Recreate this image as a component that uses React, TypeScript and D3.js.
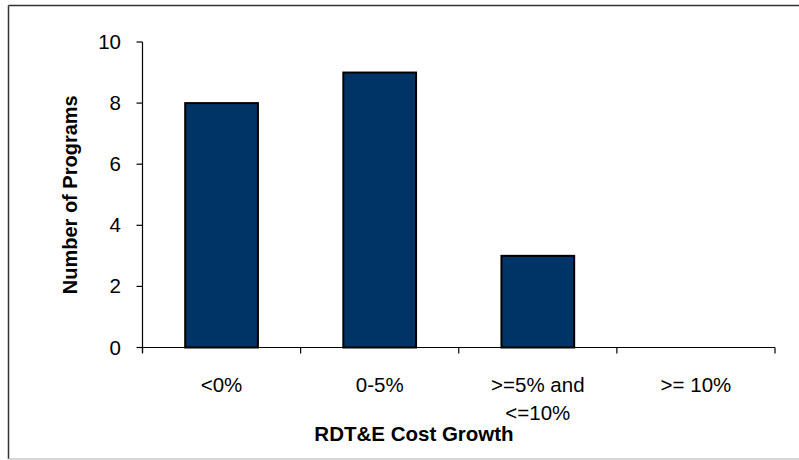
import React from "react";
import * as d3 from "d3";

const categories: string[] = ["<0%", "0-5%", ">=5% and\n<=10%", ">= 10%"];
const programCounts: number[] = [8, 9, 3, 0];
const yTicks: number[] = [0, 2, 4, 6, 8, 10];
const yAxisTitle = "Number of Programs";
const xAxisTitle = "RDT&E Cost Growth";

const W = 799;
const H = 460;
const plotLeft = 142.5;
const plotRight = 775;
const plotTop = 42;
const plotBottom = 347.5;
const FONT = "'Liberation Sans', Arial, sans-serif";

export default function App() {
  const x = d3
    .scaleBand<string>()
    .domain(categories)
    .range([plotLeft, plotRight])
    .paddingInner(0.54)
    .paddingOuter(0.27);
  const y = d3.scaleLinear().domain([0, 10]).range([plotBottom, plotTop]);
  const step = x.step();
  const boundaries = d3.range(categories.length + 1).map((i) => plotLeft + i * step);

  return (
    <svg
      width={W}
      height={H}
      style={{ position: "absolute", left: 0, top: 0, background: "#fff" }}
      fontFamily={FONT}
    >
      {/* outer frame */}
      <line x1={8.5} y1={5.5} x2={W} y2={5.5} stroke="#333" strokeWidth={1.5} />
      <line x1={8.5} y1={5.5} x2={8.5} y2={459} stroke="#333" strokeWidth={1.5} />
      <line x1={8.5} y1={459} x2={W} y2={459} stroke="#c8c8c8" strokeWidth={1.5} />

      {/* bars */}
      {categories.map((c, i) =>
        programCounts[i] > 0 ? (
          <rect
            key={c}
            x={x(c)!}
            y={y(programCounts[i])}
            width={x.bandwidth()}
            height={y(0) - y(programCounts[i])}
            fill="#003366"
            stroke="#000"
            strokeWidth={2}
          />
        ) : null
      )}

      {/* y axis */}
      <line x1={plotLeft} y1={y(10)} x2={plotLeft} y2={plotBottom + 5} stroke="#000" strokeWidth={1.2} />
      {yTicks.map((t) => (
        <g key={t}>
          <line x1={plotLeft - 6} x2={plotLeft} y1={y(t)} y2={y(t)} stroke="#000" strokeWidth={1.2} />
          <text x={121} y={y(t) + 7} textAnchor="end" fontSize={20.5} fill="#000">
            {t}
          </text>
        </g>
      ))}

      {/* x axis */}
      <line x1={plotLeft} y1={plotBottom} x2={plotRight} y2={plotBottom} stroke="#000" strokeWidth={1.2} />
      {boundaries.map((bx, i) => (
        <line key={i} x1={bx} x2={bx} y1={plotBottom} y2={plotBottom + 6} stroke="#000" strokeWidth={1.2} />
      ))}
      {categories.map((c) => {
        const cx = x(c)! + x.bandwidth() / 2;
        const lines = c.split("\n");
        return (
          <text key={c} x={cx} y={392} textAnchor="middle" fontSize={20.5} fill="#000">
            {lines.map((ln, j) => (
              <tspan key={j} x={cx} dy={j === 0 ? 0 : 27.5}>
                {ln}
              </tspan>
            ))}
          </text>
        );
      })}

      {/* axis titles */}
      <text x={414} y={441} textAnchor="middle" fontSize={20.5} fontWeight="bold" fill="#000">
        {xAxisTitle}
      </text>
      <text
        transform={`translate(77, ${(plotTop + plotBottom) / 2}) rotate(-90)`}
        textAnchor="middle"
        fontSize={20}
        fontWeight="bold"
        fill="#000"
      >
        {yAxisTitle}
      </text>
    </svg>
  );
}
